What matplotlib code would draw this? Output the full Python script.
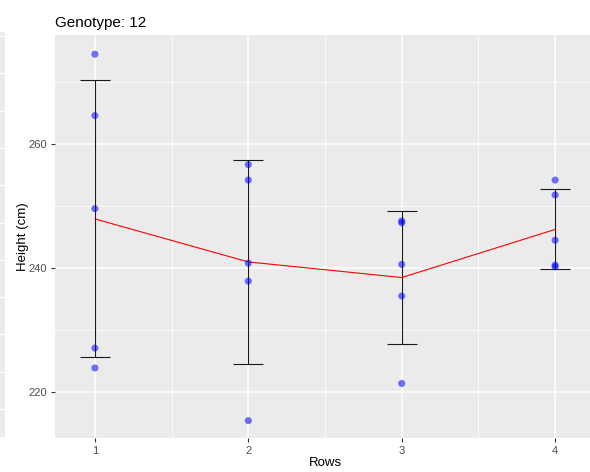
import numpy as np
import matplotlib.pyplot as plt

plt.rcParams['font.family'] = ['Liberation Sans', 'DejaVu Sans']

# Data
rows = [1, 2, 3, 4]
row1 = [274.5, 264.6, 249.6, 227.1, 223.9]
row2 = [256.7, 254.2, 240.8, 237.9, 215.4]
row3 = [247.6, 247.3, 240.6, 235.5, 221.4]
row4 = [254.2, 251.8, 244.5, 240.5, 240.2]
heights = [row1, row2, row3, row4]

means = [np.mean(h) for h in heights]
sds = [np.std(h, ddof=1) for h in heights]

W, H = 590, 472
fig = plt.figure(figsize=(W / 100, H / 100), dpi=100)

# cropped neighbouring panel on the far left
ax0 = fig.add_axes([-0.05, 1 - 437 / H, 0.05 + 5 / W, (437 - 32) / H])
ax0.set_facecolor('#ebebeb')
ax0.set_xlim(0, 1)
ax0.set_ylim(437, 32)
for yy in np.arange(36, 420, 37.3):
    ax0.axhline(yy, color='white', lw=1.0)
ax0.set_xticks([])
ax0.set_yticks([])
for s in ax0.spines.values():
    s.set_visible(False)

# main panel
left, right, top, bottom = 55, 595, 35, 438
ax = fig.add_axes([left / W, 1 - bottom / H, (right - left) / W, (bottom - top) / H])
ax.set_facecolor('#ebebeb')
for s in ax.spines.values():
    s.set_visible(False)

ax.set_xlim(0.74, 4.26)
ax.set_ylim(212.6, 277.6)
ax.set_xticks(rows)
ax.set_xticks([1.5, 2.5, 3.5], minor=True)
ax.set_yticks([220, 240, 260])
ax.set_yticks([230, 250, 270], minor=True)
ax.grid(True, which='major', color='white', lw=1.1)
ax.grid(True, which='minor', color='white', lw=0.55)
ax.set_axisbelow(True)
ax.tick_params(which='major', length=3, width=0.8, color='#333333',
               labelcolor='#4d4d4d', labelsize=8, pad=2.5)
ax.tick_params(which='minor', length=0)

for x, h in zip(rows, heights):
    ax.scatter([x] * len(h), h, s=26, color='blue', alpha=0.55,
               edgecolors='none', zorder=3)

ax.errorbar(rows, means, yerr=sds, fmt='none', ecolor='#1a1a1a',
            elinewidth=0.8, capsize=11, capthick=0.8, zorder=2)
ax.plot(rows, means, color='red', lw=0.8, zorder=2)

ax.set_title('Genotype: 12', loc='left', fontsize=11, pad=6)
ax.set_xlabel('Rows', fontsize=9.5)
ax.set_ylabel('Height (cm)', fontsize=9.5)
ax.xaxis.set_label_coords((325 - left) / (right - left), -0.048)
ax.yaxis.set_label_coords((29 - left) / (right - left), 0.5)

fig.savefig('out.png', dpi=100)
